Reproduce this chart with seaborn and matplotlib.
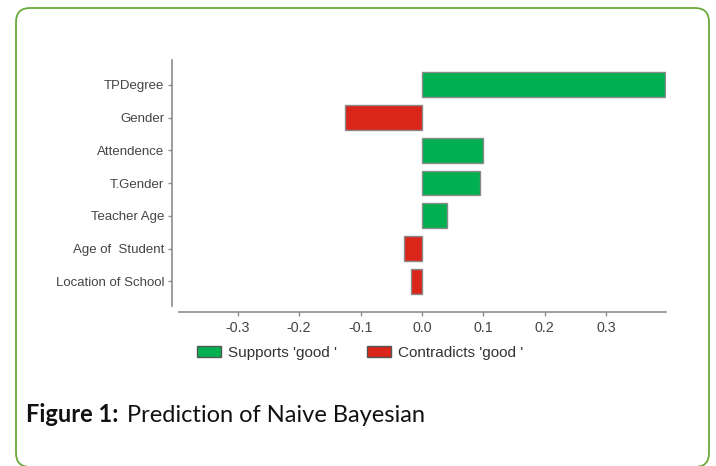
import pandas as pd
import matplotlib.pyplot as plt
import seaborn as sns
from matplotlib.patches import FancyBboxPatch, Patch
from matplotlib.transforms import IdentityTransform

# feature weights (top to bottom)
features = ['TPDegree', 'Gender', 'Attendence', 'T.Gender', 'Teacher Age',
            'Age of  Student', 'Location of School']
weights = [0.395, -0.126, 0.099, 0.094, 0.040, -0.030, -0.018]
labels = ["Supports 'good '", "Contradicts 'good '"]
colors = {labels[0]: '#00B050', labels[1]: '#D9251A'}

df = pd.DataFrame({'feature': features, 'weight': weights})
df['effect'] = [labels[0] if w > 0 else labels[1] for w in weights]

sns.set_style('white')
plt.rcParams['font.family'] = ['Liberation Sans', 'DejaVu Sans']

fig = plt.figure(figsize=(7.16, 4.66), dpi=100)
ax = fig.add_axes([0.2504, 0.3433, 0.6796, 0.5279])

sns.barplot(data=df, x='weight', y='feature', hue='effect', order=features,
            hue_order=labels, palette=colors, dodge=False, width=0.755,
            saturation=1, edgecolor='#8a8a8a', linewidth=1.0, legend=False, ax=ax)

ax.set_xlim(-0.395, 0.397)
ax.set_ylim(6.755, -0.755)
ax.set_xticks([-0.3, -0.2, -0.1, 0.0, 0.1, 0.2, 0.3])
ax.set_xticklabels(['-0.3', '-0.2', '-0.1', '0.0', '0.1', '0.2', '0.3'])
ax.set_xlabel('')
ax.set_ylabel('')

for s in ['top', 'right']:
    ax.spines[s].set_visible(False)
ax.spines['left'].set_position(('outward', 5))
ax.spines['bottom'].set_position(('outward', 4))
for s in ['left', 'bottom']:
    ax.spines[s].set_color('#8c8c8c')
    ax.spines[s].set_linewidth(1.2)

ax.tick_params(axis='both', which='both', length=3, width=1, color='#8c8c8c',
               labelcolor='#444444')
ax.tick_params(axis='y', pad=3, left=True, labelsize=9.5)
ax.tick_params(axis='x', pad=4, bottom=True, labelsize=10.3)

handles = [Patch(facecolor=colors[l], edgecolor='#555555', linewidth=1.0, label=l)
           for l in labels]
fig.legend(handles=handles, loc='center', bbox_to_anchor=(360 / 716, 1 - 353 / 466),
           ncol=2, frameon=False, fontsize=11, handlelength=1.55, handleheight=0.75,
           handletextpad=0.45, columnspacing=2.0, labelcolor='#333333')

# caption: bold label followed by the title text
cap_y = 1 - 415 / 466
t1 = fig.text(26 / 716, cap_y, 'Figure 1:', fontsize=17, fontweight='bold',
              family=['Lato', 'DejaVu Sans'], va='center', ha='left', color='#111111')
fig.canvas.draw()
bb = t1.get_window_extent()
fig.text((bb.x1 + 9) / 716, cap_y, 'Prediction of Naive Bayesian', fontsize=17,
         family=['Lato', 'DejaVu Sans'], va='center', ha='left', color='#111111')

# rounded green page frame
frame = FancyBboxPatch((16, -1), 693, 459, boxstyle='round,pad=0,rounding_size=14',
                       transform=IdentityTransform(), facecolor='none',
                       edgecolor='#6aaa3a', linewidth=1.3)
fig.add_artist(frame)

fig.savefig('out.png', dpi=100)
